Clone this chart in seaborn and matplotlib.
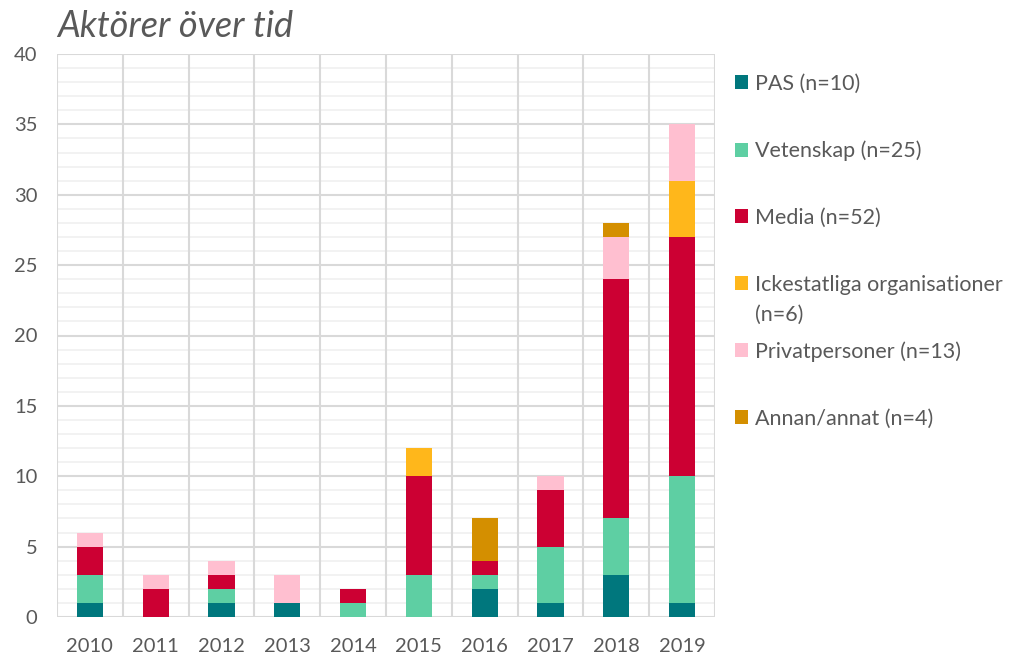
import numpy as np
import pandas as pd
import seaborn as sns
import matplotlib.pyplot as plt
from matplotlib.patches import Patch
from matplotlib.ticker import MultipleLocator

# Datos
years = ["2010", "2011", "2012", "2013", "2014", "2015", "2016", "2017", "2018", "2019"]
pas = [1, 0, 1, 1, 0, 0, 2, 1, 3, 1]
vetenskap = [2, 0, 1, 0, 1, 3, 1, 4, 4, 9]
media = [2, 2, 1, 0, 1, 7, 1, 4, 17, 17]
ickestatliga = [0, 0, 0, 0, 0, 2, 0, 0, 0, 4]
privat = [1, 1, 1, 2, 0, 0, 0, 1, 3, 4]
annan = [0, 0, 0, 0, 0, 0, 3, 0, 1, 0]

# la etiqueta larga sigue en una segunda línea (se dibuja aparte)
labels = ["PAS (n=10)", "Vetenskap (n=25)", "Media (n=52)",
          "Ickestatliga organisationer", "Privatpersoner (n=13)", "Annan/annat (n=4)"]
segunda_linea = "(n=6)"
colors = ["#00777D", "#5ECFA3", "#CC0033", "#FFB71B", "#FFBFD0", "#D48F00"]
series = [pas, vetenskap, media, ickestatliga, privat, annan]

sns.set_theme(style="white")
plt.rcParams['font.family'] = ['Lato', 'DejaVu Sans']
text_color = "#595959"

fig = plt.figure(figsize=(10.15, 6.58), dpi=100)
ax = fig.add_axes([57 / 1015, 41 / 658, 658 / 1015, 563 / 658])

bottom = np.zeros(len(years))
for vals, col in zip(series, colors):
    df = pd.DataFrame({"year": years, "n": vals})
    sns.barplot(data=df, x="year", y="n", color=col, width=0.4, bottom=bottom,
                ax=ax, saturation=1, edgecolor="none", zorder=3)
    bottom = bottom + np.array(vals)

# Rejilla
ax.set_ylim(0, 40)
ax.set_xlim(-0.5, len(years) - 0.5)
ax.yaxis.set_major_locator(MultipleLocator(5))
ax.yaxis.set_minor_locator(MultipleLocator(1))
ax.grid(axis="y", which="minor", color="#F0F0F0", linewidth=1.2, zorder=0)
ax.grid(axis="y", which="major", color="#D9D9D9", linewidth=1.5, zorder=1)
for xv in np.arange(-0.5, len(years), 1.0):
    ax.axvline(xv, color="#D9D9D9", linewidth=1.5, zorder=1)
for s in ax.spines.values():
    s.set_visible(False)
ax.axhline(0, color="#D9D9D9", linewidth=1.8, zorder=2)

ax.set_xlabel("")
ax.set_ylabel("")
ax.tick_params(axis="both", which="both", length=0, labelsize=14.5, labelcolor=text_color)
ax.tick_params(axis="y", pad=14)
ax.tick_params(axis="x", pad=15)

fig.text(57 / 1015, (658 - 37) / 658, "Aktörer över tid", fontsize=26, style="italic",
         color=text_color, va="baseline", ha="left")

handles = [Patch(facecolor=c, edgecolor="none") for c in colors]
leg = fig.legend(handles, labels, loc="upper left", bbox_to_anchor=(735 / 1015, (658 - 74) / 658),
                 frameon=False, fontsize=15.5, labelspacing=2.17, handlelength=0.62,
                 handleheight=0.62, handletextpad=0.3, borderaxespad=0, borderpad=0)
for t in leg.get_texts():
    t.set_color(text_color)

# segunda línea de "Ickestatliga organisationer", 30 px debajo
fig.canvas.draw()
bb = leg.get_texts()[3].get_window_extent()
x0, y0 = fig.transFigure.inverted().transform((bb.x0, bb.y0 - 30))
fig.text(x0, y0, segunda_linea, fontsize=15.5, color=text_color, ha="left", va="bottom")

fig.savefig("out.png", dpi=100)
